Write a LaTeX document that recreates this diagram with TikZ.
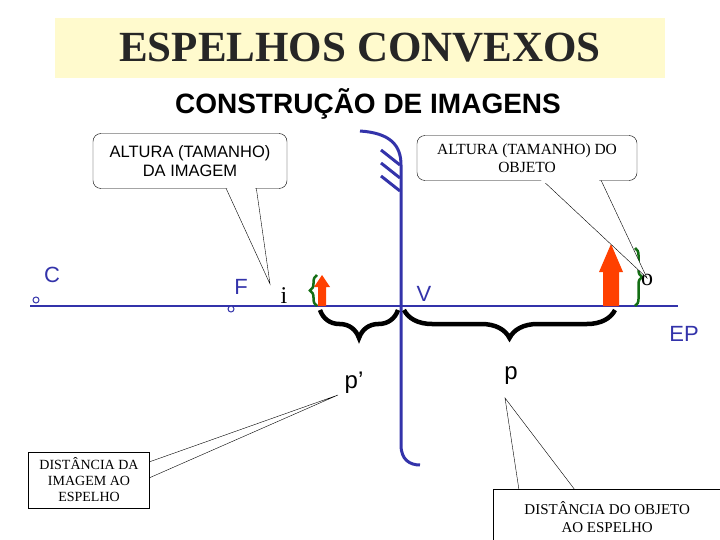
\documentclass[tikz,border=0pt]{standalone}
\usepackage{fontspec}
\setsansfont{Liberation Sans}
\setmainfont{Liberation Serif}
\usetikzlibrary{decorations.pathreplacing}
\definecolor{mblue}{RGB}{51,51,170}
\definecolor{ttl}{RGB}{255,250,205}
\definecolor{arr}{RGB}{255,64,0}
\definecolor{gbr}{RGB}{20,110,20}
\tikzset{
 call/.style={draw,fill=white,rounded corners=8pt,align=center,font=\sffamily\fontsize{16.5}{19}\selectfont,inner sep=0pt},
 callsq/.style={draw,fill=white,align=center,font=\rmfamily\fontsize{14}{16}\selectfont,inner sep=0pt},
 lab/.style={font=\sffamily\fontsize{22}{24}\selectfont,text=mblue},
 brc/.style={decorate,decoration={brace,amplitude=28pt},line width=4.5pt},
 gbrace/.style={decorate,decoration={brace,amplitude=7pt},line width=2.5pt,draw=gbr},
 dot/.style={circle,draw=mblue,fill=white,inner sep=0pt,minimum size=6pt,line width=1pt}
}
\begin{document}
\begin{tikzpicture}[x=1pt,y=-1pt]
\useasboundingbox (0,0) rectangle (720,540);
% title
\node[fill=ttl,minimum width=610pt,minimum height=60pt,inner sep=0pt] (tb) at (360,48) {};
\node[font=\rmfamily\bfseries\fontsize{43}{46}\selectfont,text=black!85] (title) at (360,48) {ESPELHOS CONVEXOS};
\node[font=\sffamily\bfseries\fontsize{28}{30}\selectfont] (sub) at (368,104) {CONSTRUÇÃO DE IMAGENS};
% axis
\coordinate (a0) at (30,306); \coordinate (a1) at (678,306);
\draw[mblue,line width=2.5pt] (a0) -- (a1);
% mirror
\draw[mblue,line width=3pt] (360,131) .. controls (390,133) and (401,145) .. (401,165) -- (401,445) .. controls (401,460) and (410,465) .. (420,465);
\foreach \yy in {150,163,176} \draw[mblue,line width=3pt] (381,\yy) -- (400,\yy+15);
% arrows
\fill[arr] (603,306) -- (603,272) -- (599,272) -- (611,244) -- (623,272) -- (619,272) -- (619,306) -- cycle;
\fill[arr] (318,306) -- (318,287) -- (314,287) -- (322,275) -- (330,287) -- (326,287) -- (326,306) -- cycle;
% green braces
\draw[gbrace] (317,306) -- (317,275);
\draw[gbrace] (635,248) -- (635,306);
% black braces
\draw[brc] (398,310) -- (320,310);
\draw[brc] (615,310) -- (404,310);
% labels
\node[lab] (C) at (52,275) {C};
\node[dot] (cd) at (36,300) {};
\node[lab] (F) at (241,287) {F};
\node[dot] (fd) at (231,309) {};
\node[font=\rmfamily\fontsize{24}{26}\selectfont] (i) at (284,296) {i};
\node[font=\rmfamily\fontsize{24}{26}\selectfont] (o) at (647,280) {o};
\node[lab] (V) at (424,294) {V};
\node[lab] (EP) at (684,334) {EP};
\node[font=\sffamily\fontsize{24}{26}\selectfont] (pp) at (354,383) {p’};
\node[font=\sffamily\fontsize{24}{26}\selectfont] (p) at (511,376) {p};
% callouts
\coordinate (t1) at (270,284);
\draw[fill=white] (225,186) -- (t1) -- (256,186);
\node[call,minimum width=194pt,minimum height=55pt] (c1) at (190,161) {ALTURA (TAMANHO)\\DA IMAGEM};
\fill[white] (226,186) -- (255,186) -- (255,190) -- (228,190) -- cycle;
\coordinate (t2) at (647,278);
\draw[fill=white] (540,178) -- (t2) -- (600,178);
\node[call,font=\rmfamily\fontsize{15.5}{18}\selectfont,minimum width=220pt,minimum height=45pt] (c2) at (527,158) {ALTURA (TAMANHO) DO\\OBJETO};
\fill[white] (541,180) -- (599,180) -- (599,183) -- (543,183) -- cycle;
\coordinate (t3) at (338,395);
\draw[fill=white] (149,462) -- (t3) -- (149,478);
\node[callsq,minimum width=121pt,minimum height=56pt] (c3) at (89,480) {DISTÂNCIA DA\\IMAGEM AO\\ESPELHO};
\coordinate (t4) at (505,398);
\draw[fill=white] (519,490) -- (t4) -- (575,490);
\node[callsq,font=\rmfamily\fontsize{15}{18}\selectfont,minimum width=228pt,minimum height=55pt,anchor=north west] (c4) at (493,489) {DISTÂNCIA DO OBJETO\\AO ESPELHO};
\end{tikzpicture}
\end{document}
